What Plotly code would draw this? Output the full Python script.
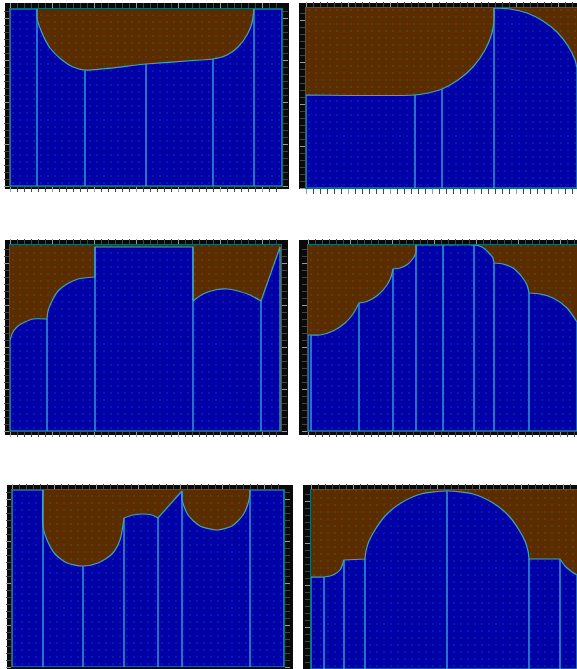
import math
import plotly.graph_objects as go

W, H = 577, 669

# Panel profiles: x = distance along the section, y = height of the blue region
p1_x = [0, 27, 27, 32, 40, 52, 63, 75, 136, 190, 203, 217, 228, 237, 242, 244, 272]
p1_y = [177, 177, 168, 153, 138, 126, 119, 116, 122, 126, 127, 131, 139, 151, 163, 177, 177]
p1_walls = [27, 75, 136, 203, 244]

p2_x = [0, 109, 122, 136, 152, 167, 179, 186, 188, 188, 204, 221, 237, 251, 262, 269, 271]
p2_y = [93, 93, 95, 99, 108, 121, 138, 155, 168, 180, 179, 175, 167, 156, 142, 128, 120]
p2_walls = [109, 136, 188]

p3_x = [0, 3, 8, 15, 23, 37, 38, 42, 48, 57, 68, 85, 85, 183, 183, 193, 205, 217, 228, 240, 251, 270]
p3_y = [91, 99, 105, 109, 112, 112, 120, 130, 140, 147, 152, 154, 184, 184, 130, 137, 141, 142, 140, 136, 130, 184]
p3_walls = [37, 85, 183, 251]

p4_x = [0, 3, 12, 25, 37, 45, 51, 60, 70, 79, 83, 85, 92, 100, 106, 108, 108, 135, 166, 174, 180, 185, 186, 195, 205, 214, 219, 221, 232, 245, 259, 269]
p4_y = [96, 96, 96, 100, 108, 117, 128, 130, 136, 146, 154, 162, 163, 167, 174, 179, 186, 186, 186, 184, 179, 173, 168, 167, 163, 154, 146, 138, 137, 133, 123, 109]
p4_walls = [3, 51, 85, 108, 135, 166, 186, 221]

p5_x = [0, 31, 31, 35, 43, 55, 71, 86, 100, 108, 112, 121, 131, 140, 146, 170, 170, 176, 188, 205, 220, 231, 237, 238, 272]
p5_y = [177, 177, 140, 127, 113, 104, 101, 104, 113, 127, 149, 152, 153, 152, 149, 176, 167, 152, 141, 137, 141, 152, 167, 177, 177]
p5_walls = [31, 71, 112, 146, 170, 238]

p6_x = [0, 13, 22, 29, 33, 54, 55, 58, 64, 74, 90, 110, 136, 162, 182, 198, 208, 214, 217, 218, 249, 254, 261, 266]
p6_y = [92, 92, 94, 99, 109, 110, 118, 128, 139, 153, 166, 175, 178, 175, 166, 153, 139, 128, 118, 110, 110, 103, 97, 94]
p6_walls = [13, 33, 54, 136, 218, 249]

profiles = [(p1_x, p1_y, p1_walls), (p2_x, p2_y, p2_walls), (p3_x, p3_y, p3_walls),
            (p4_x, p4_y, p4_walls), (p5_x, p5_y, p5_walls), (p6_x, p6_y, p6_walls)]

# Inner plot box (left, top, right, bottom) and outer frame, in page pixels
boxes = [(10, 9, 282, 186), (306, 8, 577, 188), (10, 245, 281, 431),
         (308, 245, 577, 431), (12, 490, 284, 667), (311, 490, 577, 669)]
frames = [(5, 3, 289, 189), (299, 3, 577, 189), (5, 240, 288, 435),
          (299, 240, 577, 435), (7, 485, 293, 669), (303, 485, 577, 669)]

BLUE = "#0000a8"
BROWN = "#5a2c00"
CYAN = "#3aa8c0"
WALL = "#35a0d8"
DOT = "rgba(70,190,130,0.32)"
DOT_STEP = 7


def sharpen(xs, ys):
    """Repeat a vertex where the outline turns sharply, so the smoothed line keeps that corner."""
    ox, oy = [xs[0]], [ys[0]]
    for k, (x, y) in enumerate(zip(xs, ys)):
        ox.append(x)
        oy.append(y)
        if 0 < k < len(xs) - 1:
            a = math.atan2(y - ys[k - 1], x - xs[k - 1])
            c = math.atan2(ys[k + 1] - y, xs[k + 1] - x)
            turn = abs((c - a + math.pi) % (2 * math.pi) - math.pi)
            if turn > math.radians(38):
                ox.append(x)
                oy.append(y)
    ox.append(xs[-1])
    oy.append(ys[-1])
    return ox, oy


fig = go.Figure()
layout = dict(
    width=W, height=H, margin=dict(l=0, r=0, t=0, b=0), autosize=False,
    paper_bgcolor="white", plot_bgcolor=BROWN, showlegend=False, shapes=[],
)

for i, ((xs, ys, walls), box, frame) in enumerate(zip(profiles, boxes, frames), start=1):
    l, t, r, b = box
    suffix = "" if i == 1 else str(i)
    xname, yname = f"x{suffix}", f"y{suffix}"
    sx, sy = sharpen(xs, ys)
    fig.add_trace(go.Scatter(x=[xs[0], xs[0]] + sx + [xs[-1], xs[-1], xs[-1], xs[0], xs[0]],
                             y=[0, 0] + sy + [ys[-1], 0, 0, 0, 0], mode="lines",
                             fill="toself", fillcolor=BLUE,
                             line=dict(color=CYAN, width=1.2, shape="spline", smoothing=0.7, simplify=False),
                             xaxis=xname, yaxis=yname, hoverinfo="skip"))
    dx = [p for p in range(3, r - l, DOT_STEP) for _ in range(3, b - t, DOT_STEP)]
    dy = [q for _ in range(3, r - l, DOT_STEP) for q in range(3, b - t, DOT_STEP)]
    fig.add_trace(go.Scatter(x=dx, y=dy, mode="markers", marker=dict(size=1.6, color=DOT, line=dict(width=0)),
                             xaxis=xname, yaxis=yname, hoverinfo="skip"))
    wx, wy = [], []
    for w in walls:
        wx += [w, w, None]
        wy += [0, max(y for x, y in zip(xs, ys) if x == w), None]
    fig.add_trace(go.Scatter(x=wx, y=wy, mode="lines", line=dict(color=WALL, width=1.4),
                             xaxis=xname, yaxis=yname, hoverinfo="skip"))
    right_column = i % 2 == 0
    bottom_row = i >= 5
    base = dict(showticklabels=False, zeroline=False, showline=True, linecolor="#0c6f6f", linewidth=1,
                ticks="outside", ticklen=5, tickcolor="#9a9a9a", tickwidth=1,
                dtick=42, tick0=0, showgrid=False)
    minor = dict(ticks="outside", ticklen=5, tickcolor="#444444", tickwidth=1, dtick=7, tick0=0, showgrid=False)
    # Ticks on page-edge sides would stretch the page, so those sides stay without them
    layout[f"xaxis{suffix}"] = dict(base, domain=[l / W, r / W], range=[0, r - l], anchor=yname, minor=minor,
                                    side="top" if bottom_row else "bottom",
                                    mirror=False if bottom_row else "allticks")
    layout[f"yaxis{suffix}"] = dict(base, domain=[1 - b / H, 1 - t / H], range=[0, b - t], anchor=xname, minor=minor,
                                    mirror=False if right_column else "allticks")
    fl, ft, fr, fb = frame
    layout["shapes"].append(dict(type="rect", xref="paper", yref="paper", layer="below",
                                 x0=fl / W, x1=fr / W, y0=1 - fb / H, y1=1 - ft / H,
                                 fillcolor="#0a0a0a", line=dict(width=0)))
    layout["shapes"].append(dict(type="rect", xref=f"{xname} domain", yref=f"{yname} domain", layer="below",
                                 x0=0, x1=1, y0=0, y1=1, fillcolor=BROWN, line=dict(width=0)))

fig.update_layout(**layout)
fig.write_html("out.html", config=dict(displayModeBar=False),
               post_script="document.body.style.margin='0';document.body.style.overflow='hidden';")
